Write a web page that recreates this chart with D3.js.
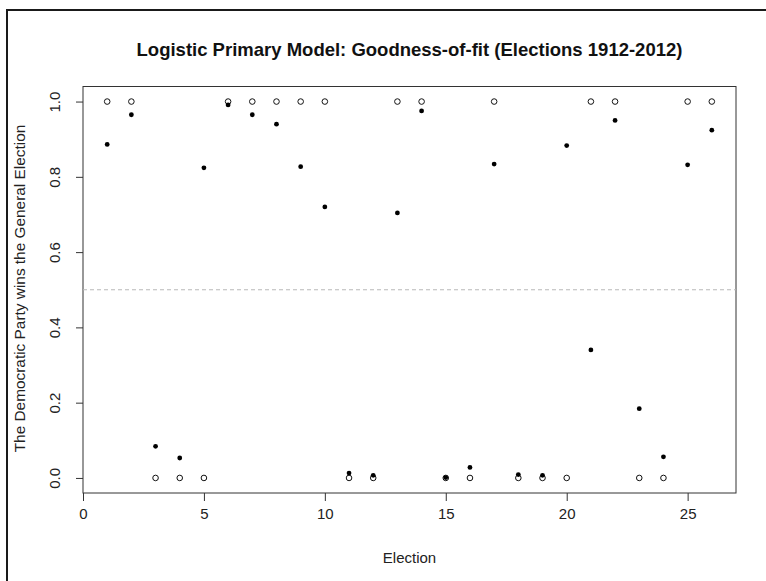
<!DOCTYPE html>
<html><head><meta charset="utf-8">
<script src="https://cdn.jsdelivr.net/npm/d3@7/dist/d3.min.js"></script>
<style>body{margin:0;background:#fff}svg{display:block;font-family:"Liberation Sans",Arial,sans-serif}</style>
</head><body><svg id="c" width="766" height="581"></svg>
<script>
const elections = [1,2,3,4,5,6,7,8,9,10,11,12,13,14,15,16,17,18,19,20,21,22,23,24,25,26];
const actual = [1,1,0,0,0,1,1,1,1,1,0,0,1,1,0,0,1,0,0,0,1,1,0,0,1,1];
const fitted = [0.886,0.965,0.084,0.053,0.824,0.991,0.965,0.940,0.827,0.720,0.013,0.007,0.704,0.975,0.001,0.028,0.834,0.009,0.007,0.883,0.340,0.950,0.184,0.056,0.832,0.924];
const xTicks = [0,5,10,15,20,25];
const yTicks = [0,0.2,0.4,0.6,0.8,1.0];
const title = "Logistic Primary Model: Goodness-of-fit (Elections 1912-2012)";
const xLabel = "Election";
const yLabel = "The Democratic Party wins the General Election";
const threshold = 0.5;

const svg = d3.select("#c");
const L = 83, R = 736, T = 86.5, B = 493;
const x = d3.scaleLinear().domain([0, 27]).range([L, R]);
const y = d3.scaleLinear().domain([-0.04, 1.04]).range([B, T]);

// outer frame (top + left)
svg.append("path").attr("d", `M7,581 V10 H766`).attr("fill","none").attr("stroke","#1a1a1a").attr("stroke-width",2);

// plot box
svg.append("rect").attr("x",L).attr("y",T).attr("width",R-L).attr("height",B-T)
  .attr("fill","none").attr("stroke","#333").attr("stroke-width",1);

// threshold line
svg.append("line").attr("x1",L).attr("x2",R).attr("y1",y(threshold)).attr("y2",y(threshold))
  .attr("stroke","#b8b8b8").attr("stroke-dasharray","4,3").attr("stroke-width",1);

// axes
const xAxis = d3.axisBottom(x).tickValues(xTicks).tickSize(8).tickPadding(7).tickFormat(d3.format("d"));
const gx = svg.append("g").attr("transform",`translate(0,${B})`).call(xAxis);
gx.select(".domain").remove();
gx.selectAll("text").attr("font-size",15).attr("fill","#222").attr("font-family","Liberation Sans, Arial, sans-serif");
gx.selectAll("line").attr("stroke","#333");

const yAxis = d3.axisLeft(y).tickValues(yTicks).tickSize(7).tickFormat(d3.format(".1f"));
const gy = svg.append("g").attr("transform",`translate(${L},0)`).call(yAxis);
gy.select(".domain").remove();
gy.selectAll("line").attr("stroke","#333");
gy.selectAll("text").attr("font-size",15).attr("fill","#222").attr("font-family","Liberation Sans, Arial, sans-serif")
  .attr("x",null).attr("dy",null).attr("text-anchor","middle")
  .attr("transform","translate(-28,0) rotate(-90)").attr("dominant-baseline","auto").attr("y",5);

// title and labels
svg.append("text").attr("x",(L+R)/2).attr("y",56).attr("text-anchor","middle")
  .attr("font-size",18.5).attr("font-weight","bold").attr("fill","#111").text(title);
svg.append("text").attr("x",(L+R)/2).attr("y",563).attr("text-anchor","middle")
  .attr("font-size",15).attr("fill","#222").text(xLabel);
svg.append("text").attr("transform",`translate(25,288.5) rotate(-90)`).attr("text-anchor","middle")
  .attr("font-size",15.4).attr("fill","#222").text(yLabel);

// points
svg.append("g").selectAll("circle").data(elections).join("circle")
  .attr("cx",(d)=>x(d)).attr("cy",(d,i)=>y(actual[i])).attr("r",2.8)
  .attr("fill","none").attr("stroke","#111").attr("stroke-width",1);
svg.append("g").selectAll("circle").data(elections).join("circle")
  .attr("cx",(d)=>x(d)).attr("cy",(d,i)=>y(fitted[i])).attr("r",2.4)
  .attr("fill","#000");
</script></body></html>
